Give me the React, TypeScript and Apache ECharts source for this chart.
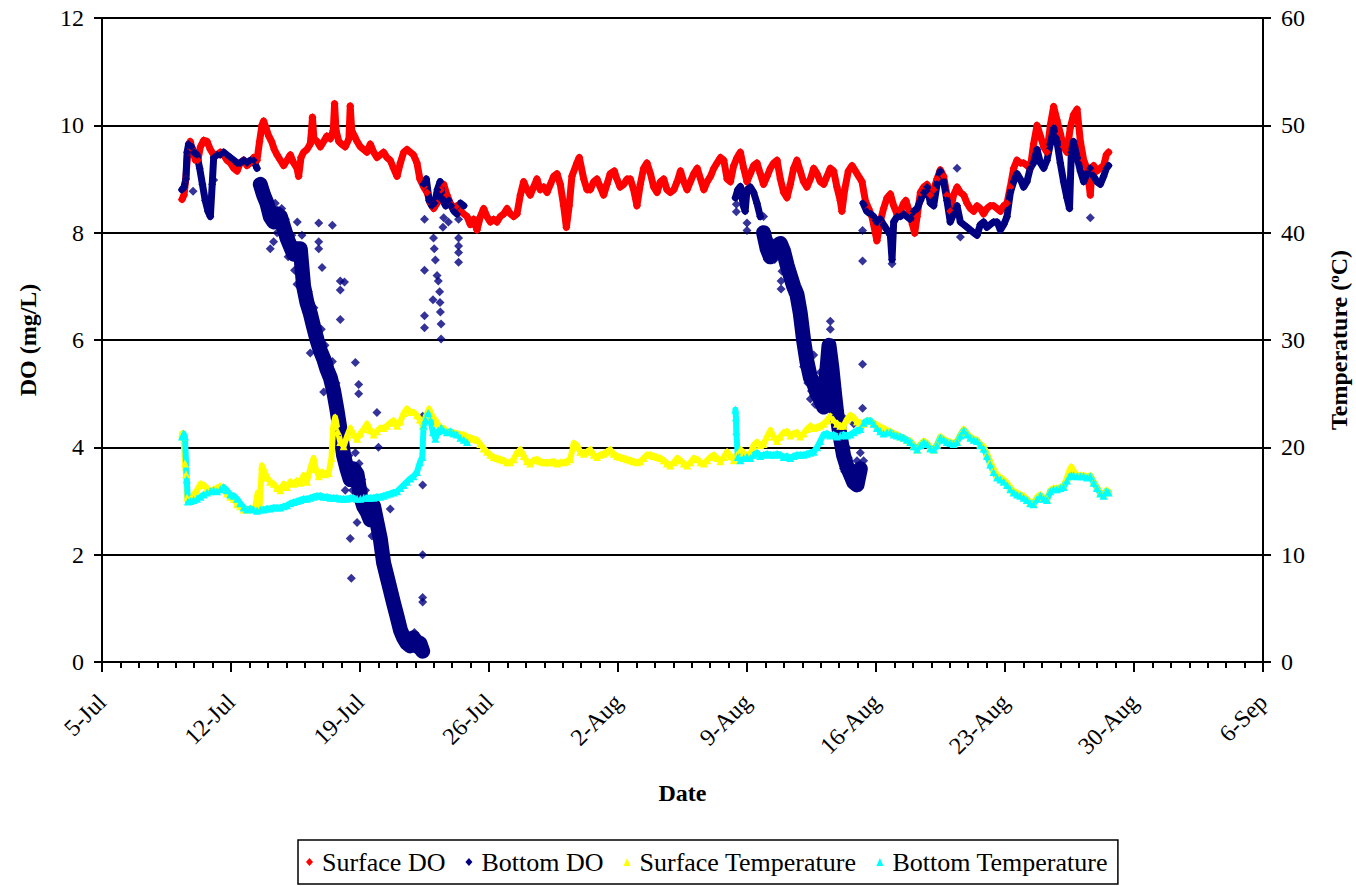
import React, { useEffect, useRef } from "react";
import * as echarts from "echarts";

// x values are days counted from 5-Jul (day 0 = 5-Jul 00:00)
const dateTicks = ["5-Jul", "12-Jul", "19-Jul", "26-Jul", "2-Aug", "9-Aug", "16-Aug", "23-Aug", "30-Aug", "6-Sep"];
const seriesNames = ["Surface DO", "Bottom DO", "Surface Temperature", "Bottom Temperature"];

const surfaceDO: [number, number][] = [
  [4.34, 8.62], [4.45, 8.7], [4.55, 9.0], [4.65, 9.5], [4.79, 9.7], [4.9, 9.55], [5.07, 9.35], [5.2, 9.35], [5.34, 9.6], [5.52, 9.72],
  [5.7, 9.7], [5.88, 9.55], [6.06, 9.45], [6.24, 9.45], [6.42, 9.5], [6.6, 9.45], [6.78, 9.35], [6.96, 9.3], [7.15, 9.2], [7.33, 9.15],
  [7.5, 9.3], [7.69, 9.35], [7.87, 9.25], [8.05, 9.3], [8.23, 9.4], [8.41, 9.35], [8.55, 9.7], [8.68, 10.0], [8.77, 10.08], [8.9, 9.95],
  [9.05, 9.8], [9.2, 9.7], [9.35, 9.55], [9.5, 9.45], [9.68, 9.35], [9.86, 9.25], [10.04, 9.35], [10.22, 9.45], [10.4, 9.3], [10.58, 9.2],
  [10.67, 9.05], [10.8, 9.4], [10.94, 9.5], [11.12, 9.55], [11.3, 9.65], [11.37, 9.9], [11.42, 10.15], [11.5, 9.75], [11.67, 9.7], [11.85, 9.6],
  [12.03, 9.7], [12.2, 9.8], [12.39, 9.75], [12.55, 9.9], [12.62, 10.4], [12.7, 9.9], [12.85, 9.7], [13.0, 9.65], [13.2, 9.6], [13.4, 9.75],
  [13.47, 10.36], [13.55, 9.9], [13.7, 9.8], [13.84, 9.7], [14.02, 9.6], [14.2, 9.55], [14.38, 9.5], [14.56, 9.65], [14.74, 9.5], [14.92, 9.4],
  [15.1, 9.45], [15.28, 9.5], [15.46, 9.4], [15.64, 9.35], [15.82, 9.2], [16.01, 9.05], [16.19, 9.3], [16.37, 9.5], [16.55, 9.55], [16.73, 9.5],
  [16.9, 9.45], [17.09, 9.3], [17.25, 9.0], [17.46, 8.85], [17.64, 8.75], [17.82, 8.55], [18.0, 8.45], [18.18, 8.55], [18.4, 8.8], [18.54, 8.9],
  [18.72, 8.7], [18.9, 8.55], [19.08, 8.45], [19.26, 8.5], [19.45, 8.4], [19.63, 8.35], [19.81, 8.3], [19.99, 8.15], [20.17, 8.25], [20.35, 8.05],
  [20.53, 8.3], [20.71, 8.45], [20.89, 8.3], [21.07, 8.2], [21.25, 8.25], [21.43, 8.2], [21.61, 8.3], [21.8, 8.35], [21.98, 8.45], [22.16, 8.35],
  [22.34, 8.3], [22.52, 8.35], [22.7, 8.7], [22.88, 8.95], [23.06, 8.8], [23.24, 8.7], [23.42, 8.85], [23.6, 9.0], [23.78, 8.8], [23.97, 8.85],
  [24.15, 8.75], [24.33, 8.9], [24.51, 9.05], [24.69, 9.1], [24.87, 8.9], [25.05, 8.5], [25.2, 8.1], [25.35, 8.5], [25.5, 9.05], [25.77, 9.3],
  [25.9, 9.4], [26.14, 9.0], [26.32, 8.8], [26.5, 8.8], [26.68, 8.95], [26.86, 9.0], [27.04, 8.85], [27.22, 8.7], [27.4, 8.9], [27.58, 9.1],
  [27.8, 9.15], [27.94, 9.0], [28.12, 8.85], [28.31, 8.9], [28.49, 9.0], [28.67, 9.0], [28.85, 8.8], [29.03, 8.5], [29.21, 8.9], [29.39, 9.2],
  [29.57, 9.3], [29.76, 9.1], [29.94, 8.85], [30.12, 8.75], [30.3, 8.95], [30.48, 9.0], [30.66, 8.8], [30.84, 8.75], [31.03, 8.8], [31.21, 8.95],
  [31.39, 9.15], [31.57, 8.95], [31.75, 8.8], [31.93, 8.95], [32.11, 9.1], [32.3, 9.2], [32.48, 9.0], [32.66, 8.8], [32.84, 8.95], [33.02, 9.05],
  [33.2, 9.2], [33.38, 9.3], [33.56, 9.4], [33.74, 9.35], [33.92, 9.0], [34.1, 8.95], [34.28, 9.25], [34.46, 9.4], [34.64, 9.5], [34.82, 9.2],
  [35.0, 8.95], [35.18, 9.1], [35.36, 9.25], [35.54, 9.3], [35.72, 9.1], [35.9, 8.9], [36.09, 9.05], [36.27, 9.2], [36.45, 9.3], [36.63, 9.35],
  [36.81, 9.0], [36.99, 8.75], [37.17, 8.65], [37.35, 8.9], [37.53, 9.2], [37.71, 9.35], [37.89, 9.15], [38.07, 8.95], [38.25, 8.85], [38.44, 9.0],
  [38.62, 9.2], [38.8, 9.1], [38.98, 8.95], [39.16, 8.9], [39.34, 9.05], [39.52, 9.2], [39.7, 9.15], [39.88, 8.85], [40.06, 8.6], [40.15, 8.4],
  [40.3, 8.8], [40.5, 9.15], [40.7, 9.25], [40.88, 9.15], [41.06, 9.05], [41.24, 8.95], [41.42, 8.6], [41.6, 8.45], [41.78, 8.3], [41.96, 8.0],
  [42.05, 7.85], [42.23, 8.2], [42.41, 8.45], [42.6, 8.65], [42.78, 8.72], [42.96, 8.5], [43.14, 8.35], [43.32, 8.4], [43.5, 8.55], [43.62, 8.6],
  [43.8, 8.4], [43.98, 8.15], [44.1, 7.99], [44.23, 8.3], [44.41, 8.75], [44.59, 8.85], [44.77, 8.9], [44.95, 8.7], [45.13, 8.8], [45.31, 9.0],
  [45.49, 9.17], [45.67, 9.05], [45.85, 8.7], [46.03, 8.4], [46.21, 8.7], [46.4, 8.85], [46.58, 8.75], [46.76, 8.7], [46.94, 8.55], [47.12, 8.45],
  [47.3, 8.4], [47.48, 8.5], [47.66, 8.45], [47.84, 8.35], [48.02, 8.45], [48.2, 8.5], [48.38, 8.5], [48.57, 8.45], [48.75, 8.4], [48.93, 8.5],
  [49.11, 8.55], [49.29, 8.85], [49.47, 9.2], [49.65, 9.35], [49.83, 9.3], [50.01, 9.3], [50.19, 9.25], [50.37, 9.2], [50.55, 9.65], [50.74, 10.0],
  [50.92, 9.8], [51.1, 9.6], [51.28, 9.5], [51.46, 10.0], [51.64, 10.35], [51.82, 10.1], [52.0, 9.85], [52.18, 9.6], [52.36, 9.5], [52.54, 9.95],
  [52.72, 10.2], [52.91, 10.3], [53.09, 9.7], [53.27, 9.35], [53.45, 9.2], [53.63, 8.7], [53.72, 9.2], [53.81, 9.25], [53.99, 9.15], [54.17, 9.2],
  [54.35, 9.25], [54.5, 9.45], [54.62, 9.5],
];

const bottomDO: [number, number][] = [
  [4.34, 8.8], [4.45, 8.85], [4.55, 9.0], [4.62, 9.5], [4.7, 9.65], [4.85, 9.6], [5.0, 9.5], [5.15, 9.45], [5.3, 9.2], [5.45, 8.9],
  [5.6, 8.6], [5.75, 8.4], [5.88, 8.3], [5.98, 8.9], [6.06, 9.4], [6.24, 9.45], [6.42, 9.45], [6.6, 9.5], [6.78, 9.45], [6.96, 9.4],
  [7.15, 9.35], [7.33, 9.3], [7.5, 9.3], [7.69, 9.35], [7.87, 9.3], [8.05, 9.35], [8.23, 9.35], [8.41, 9.2], [8.59, 8.9], [8.77, 8.7],
  [8.95, 8.55], [9.13, 8.3], [9.32, 8.2], [9.5, 8.35], [9.68, 8.3], [9.86, 8.1], [10.04, 7.9], [10.22, 7.75], [10.4, 7.6], [10.58, 7.7],
  [10.76, 7.7], [10.94, 7.0], [11.12, 6.7], [11.3, 6.5], [11.48, 6.25], [11.67, 6.0], [11.85, 5.8], [12.03, 5.65], [12.21, 5.45], [12.39, 5.3],
  [12.57, 5.05], [12.75, 4.7], [12.93, 4.3], [13.11, 3.85], [13.29, 3.6], [13.47, 3.4], [13.65, 3.6], [13.84, 3.5], [14.02, 3.1], [14.2, 2.9],
  [14.38, 2.8], [14.56, 2.65], [14.74, 2.9], [14.92, 2.6], [15.1, 2.3], [15.28, 1.85], [15.46, 1.6], [15.64, 1.35], [15.82, 1.1], [16.01, 0.85],
  [16.19, 0.6], [16.37, 0.45], [16.55, 0.35], [16.73, 0.3], [16.9, 0.45], [17.09, 0.3], [17.25, 0.35], [17.4, 0.2],
  [17.46, 8.9], [17.6, 9.0], [17.75, 8.6], [17.9, 8.5], [18.05, 8.55], [18.2, 8.8], [18.35, 8.95], [18.5, 8.6], [18.65, 8.5], [18.8, 8.6],
  [18.95, 8.5], [19.1, 8.4], [19.26, 8.35], [19.45, 8.55], [19.63, 8.5],
  [34.37, 8.65], [34.5, 8.8], [34.64, 8.86], [34.8, 8.5], [34.9, 8.4], [35.0, 8.8], [35.18, 8.85], [35.36, 8.75], [35.54, 8.55], [35.72, 8.3],
  [35.9, 8.0], [36.09, 7.7], [36.27, 7.55], [36.45, 7.7], [36.63, 7.75], [36.81, 7.8], [36.99, 7.65], [37.17, 7.4], [37.35, 7.2], [37.53, 7.0],
  [37.71, 6.85], [37.89, 6.5], [38.07, 6.0], [38.25, 5.6], [38.44, 5.3], [38.62, 5.2], [38.8, 5.0], [38.98, 4.9], [39.16, 4.75], [39.3, 5.3],
  [39.45, 5.9], [39.6, 5.5], [39.75, 5.0], [39.88, 4.6], [40.06, 4.2], [40.24, 3.85], [40.42, 3.65], [40.61, 3.5], [40.79, 3.35], [40.97, 3.3],
  [41.15, 3.6], [41.3, 8.55], [41.5, 8.4], [41.69, 8.35], [41.87, 8.3], [42.05, 8.2], [42.23, 8.25], [42.41, 8.15], [42.6, 8.05], [42.78, 7.95],
  [42.87, 7.5], [42.96, 8.2], [43.14, 8.3], [43.32, 8.3], [43.5, 8.35], [43.68, 8.3], [43.86, 8.25], [44.05, 8.4], [44.23, 8.45], [44.41, 8.6],
  [44.59, 8.75], [44.77, 8.85], [44.95, 8.55], [45.13, 8.5], [45.31, 8.9], [45.49, 9.15], [45.67, 8.95], [45.85, 8.6], [46.03, 8.2], [46.21, 8.35],
  [46.4, 8.5], [46.58, 8.2], [46.76, 8.15], [46.94, 8.1], [47.12, 8.05], [47.3, 8.0], [47.48, 7.95], [47.66, 8.15], [47.84, 8.2], [48.02, 8.1],
  [48.2, 8.15], [48.38, 8.2], [48.57, 8.2], [48.75, 8.05], [48.93, 8.15], [49.11, 8.3], [49.29, 8.75], [49.47, 8.95], [49.65, 9.1], [49.83, 9.0],
  [50.01, 8.85], [50.19, 8.95], [50.37, 9.2], [50.55, 9.3], [50.74, 9.55], [50.92, 9.3], [51.1, 9.2], [51.28, 9.35], [51.46, 9.65], [51.64, 9.95],
  [51.82, 9.7], [52.0, 9.3], [52.18, 8.95], [52.36, 8.65], [52.5, 8.45], [52.6, 9.5], [52.72, 9.7], [52.91, 9.4], [53.09, 9.15], [53.27, 8.95],
  [53.45, 9.1], [53.63, 9.2], [53.81, 9.05], [53.99, 8.95], [54.17, 8.9], [54.35, 9.05], [54.5, 9.2], [54.62, 9.25],
];
// periods [from, to] (days) when the bottom DO readings form a wide scattered cloud
const bottomDOCloud: [number, number][] = [[8.5, 17.43], [35.8, 41.25]];
// days at which the bottom DO record is interrupted
const bottomDOBreaks = [19.7];

// scattered bottom DO readings away from the main band
const bottomDOScatter: [number, number][] = [
  [4.94, 8.77], [6.06, 8.98], [8.8, 8.5], [9.0, 8.35], [9.13, 7.7], [9.31, 7.83], [9.4, 8.55], [9.5, 8.0], [9.6, 8.1], [9.75, 8.45],
  [9.95, 8.25], [10.1, 7.55], [10.3, 7.95], [10.45, 7.3], [10.58, 7.04], [10.6, 8.2], [10.7, 7.5], [10.85, 7.95], [11.0, 7.4], [11.2, 6.9],
  [11.3, 5.76], [11.4, 6.35], [11.5, 6.6], [11.6, 5.9], [11.76, 8.18], [11.76, 7.83], [11.76, 7.7], [11.9, 6.2], [11.94, 7.35], [12.03, 5.03],
  [12.1, 5.9], [12.3, 5.6], [12.5, 8.14], [12.5, 5.6], [12.7, 5.2], [12.85, 4.6], [12.93, 7.1], [12.93, 6.93], [12.93, 6.38], [13.0, 3.9],
  [13.16, 7.08], [13.2, 3.2], [13.4, 3.85], [13.47, 2.3], [13.53, 1.56], [13.6, 3.2], [13.75, 5.58], [13.75, 3.9], [13.84, 2.6], [13.93, 5.17],
  [13.93, 5.0], [13.95, 3.7], [14.1, 3.4], [14.3, 3.2], [14.5, 2.9], [14.65, 2.35], [14.85, 2.9], [14.92, 4.65], [15.0, 4.0], [15.0, 2.45],
  [15.1, 2.1], [15.2, 2.05], [15.35, 1.6], [15.55, 1.45], [15.64, 2.85], [15.75, 1.2], [15.9, 1.0], [16.1, 0.7], [16.3, 0.55], [16.45, 0.4],
  [16.65, 0.5], [16.8, 0.25], [16.95, 0.55], [17.1, 0.2], [17.2, 0.45], [17.3, 0.3], [17.4, 1.12], [17.4, 1.2], [17.4, 2.0], [17.4, 3.3],
  [17.4, 4.58], [17.5, 7.3], [17.5, 6.45], [17.5, 6.23], [17.5, 8.25], [17.96, 6.75], [17.99, 7.9], [18.03, 7.7], [18.09, 7.49], [18.18, 7.2],
  [18.25, 7.1], [18.32, 6.9], [18.34, 6.7], [18.36, 6.52], [18.4, 6.3], [18.4, 6.02], [18.5, 8.1], [18.54, 8.28], [18.8, 8.2], [19.35, 7.9],
  [19.35, 7.75], [19.35, 7.63], [19.35, 7.45], [19.35, 8.25],
  [34.42, 8.53], [34.42, 8.39], [35.0, 8.04], [35.0, 8.18], [35.9, 8.3], [36.1, 7.5], [36.3, 7.85], [36.5, 7.5], [36.7, 7.6], [36.85, 7.1],
  [36.85, 6.95], [36.9, 7.28], [36.9, 7.85], [37.1, 7.65], [37.3, 7.05], [37.5, 6.85], [38.07, 5.5], [38.1, 5.7], [38.25, 5.75], [38.3, 5.2],
  [38.44, 4.9], [38.5, 5.05], [38.62, 5.72], [38.7, 4.8], [38.9, 5.1], [38.98, 5.4], [39.1, 4.85], [39.16, 5.27], [39.25, 5.6], [39.34, 5.94],
  [39.4, 5.55], [39.52, 6.35], [39.52, 6.2], [39.55, 5.75], [39.65, 5.2], [39.75, 4.85], [39.8, 4.7], [39.88, 5.1], [39.9, 5.0], [40.0, 4.5],
  [40.1, 3.9], [40.15, 4.58], [40.24, 3.6], [40.3, 3.55], [40.4, 4.0], [40.5, 3.8], [40.6, 3.4], [40.7, 3.6], [40.79, 4.44], [40.85, 3.4],
  [40.97, 3.75], [41.05, 3.5], [41.15, 3.9], [41.27, 5.55], [41.27, 4.73], [41.27, 8.04], [41.27, 7.47], [41.33, 3.75], [42.87, 7.42],
  [46.4, 9.2], [46.58, 7.92], [53.63, 8.28],
];

const surfaceTemp: [number, number][] = [
  [4.34, 21.3], [4.42, 21.0], [4.5, 18.5], [4.56, 17.5], [4.62, 15.3], [4.8, 15.2], [4.97, 15.6], [5.15, 16.0], [5.34, 16.6], [5.52, 16.5],
  [5.7, 16.2], [5.88, 15.9], [6.06, 16.1], [6.24, 16.2], [6.42, 16.4], [6.6, 16.1], [6.78, 15.7], [6.96, 15.4], [7.15, 15.2], [7.33, 14.7],
  [7.5, 14.5], [7.69, 14.2], [7.87, 14.2], [8.05, 14.3], [8.3, 14.3], [8.45, 15.8], [8.55, 14.4], [8.68, 18.3], [8.8, 17.8], [8.95, 17.2],
  [9.13, 16.8], [9.32, 16.6], [9.5, 16.2], [9.68, 16.0], [9.86, 16.6], [10.04, 16.3], [10.22, 16.8], [10.4, 16.6], [10.58, 16.9], [10.76, 16.7],
  [10.94, 17.4], [11.12, 16.8], [11.3, 18.0], [11.48, 19.0], [11.6, 18.0], [11.76, 17.3], [11.94, 17.7], [12.1, 17.5], [12.3, 17.6], [12.45, 19.0],
  [12.55, 22.0], [12.65, 22.8], [12.8, 21.5], [12.93, 20.5], [13.11, 20.1], [13.29, 21.0], [13.47, 21.8], [13.65, 21.2], [13.84, 20.8], [14.02, 21.3],
  [14.2, 21.7], [14.38, 22.2], [14.56, 21.6], [14.74, 21.2], [14.92, 21.5], [15.1, 21.8], [15.28, 21.8], [15.46, 22.0], [15.64, 22.3], [15.82, 22.5],
  [16.01, 22.0], [16.19, 22.4], [16.37, 23.2], [16.55, 23.6], [16.73, 23.3], [16.9, 23.3], [17.09, 23.0], [17.25, 22.6], [17.4, 22.0], [17.55, 22.8],
  [17.75, 23.6], [17.9, 23.0], [18.18, 22.3], [18.36, 21.8], [18.54, 21.8], [18.72, 21.5], [18.9, 21.4], [19.08, 21.4], [19.26, 21.3], [19.45, 21.2],
  [19.63, 21.2], [19.81, 21.0], [19.99, 20.9], [20.17, 20.8], [20.35, 20.7], [20.53, 20.3], [20.71, 19.9], [20.89, 19.6], [21.07, 19.3], [21.25, 19.1],
  [21.43, 19.0], [21.61, 18.9], [21.8, 18.8], [21.98, 18.6], [22.16, 18.6], [22.34, 18.9], [22.52, 19.5], [22.7, 19.8], [22.88, 19.2], [23.06, 18.7],
  [23.24, 18.5], [23.42, 18.8], [23.6, 18.9], [23.78, 18.7], [23.97, 18.6], [24.15, 18.6], [24.33, 18.6], [24.51, 18.7], [24.69, 18.5], [24.87, 18.6],
  [25.05, 18.6], [25.23, 18.7], [25.41, 18.9], [25.6, 20.4], [25.77, 20.2], [25.95, 19.6], [26.14, 19.4], [26.32, 19.6], [26.5, 19.8], [26.68, 19.3],
  [26.86, 19.1], [27.04, 19.3], [27.22, 19.4], [27.4, 19.6], [27.58, 19.8], [27.76, 19.4], [27.94, 19.2], [28.12, 19.1], [28.31, 19.0], [28.49, 18.9],
  [28.67, 18.8], [28.85, 18.7], [29.03, 18.6], [29.21, 18.7], [29.39, 19.0], [29.57, 19.3], [29.76, 19.3], [29.94, 19.2], [30.12, 19.1], [30.3, 19.0],
  [30.48, 18.8], [30.66, 18.5], [30.84, 18.3], [31.03, 18.6], [31.21, 19.0], [31.39, 18.8], [31.57, 18.5], [31.75, 18.3], [31.93, 18.6], [32.11, 19.0],
  [32.3, 18.9], [32.48, 18.6], [32.66, 18.5], [32.84, 18.8], [33.02, 19.1], [33.2, 19.3], [33.38, 19.0], [33.56, 18.7], [33.74, 19.1], [33.92, 19.6],
  [34.1, 19.2], [34.28, 18.8], [34.46, 19.3], [34.64, 19.8], [34.82, 19.5], [35.0, 19.0], [35.18, 19.4], [35.36, 20.2], [35.54, 20.5], [35.72, 20.2],
  [35.9, 20.3], [36.09, 21.0], [36.27, 21.6], [36.45, 21.0], [36.63, 20.6], [36.81, 21.0], [36.99, 21.4], [37.17, 21.5], [37.35, 21.1], [37.53, 21.3],
  [37.71, 21.4], [37.89, 21.0], [38.07, 21.3], [38.25, 21.7], [38.44, 22.0], [38.62, 21.8], [38.8, 21.9], [38.98, 22.0], [39.16, 22.2], [39.34, 22.5],
  [39.52, 22.9], [39.7, 22.6], [39.88, 22.2], [40.06, 22.0], [40.24, 22.0], [40.42, 22.6], [40.61, 23.0], [40.79, 22.8], [40.97, 22.4], [41.15, 22.3],
  [41.33, 22.2], [41.51, 22.5], [41.69, 22.5], [41.87, 22.3], [42.05, 22.1], [42.23, 21.9], [42.41, 21.8], [42.6, 21.6], [42.78, 21.5], [42.96, 21.3],
  [43.14, 21.2], [43.32, 21.0], [43.5, 20.9], [43.68, 20.7], [43.86, 20.6], [44.05, 20.2], [44.23, 19.8], [44.41, 20.3], [44.59, 20.6], [44.77, 20.4],
  [44.95, 20.0], [45.13, 19.8], [45.31, 20.3], [45.49, 21.0], [45.67, 20.8], [45.85, 20.6], [46.03, 20.5], [46.21, 20.4], [46.4, 20.6], [46.58, 21.2],
  [46.76, 21.7], [46.94, 21.3], [47.12, 21.0], [47.3, 20.8], [47.48, 20.7], [47.66, 20.3], [47.84, 20.1], [48.02, 19.4], [48.2, 18.7], [48.38, 18.0],
  [48.57, 17.4], [48.75, 17.2], [48.93, 17.0], [49.11, 16.7], [49.29, 16.3], [49.47, 15.9], [49.65, 15.8], [49.83, 15.6], [50.01, 15.5], [50.19, 15.2],
  [50.37, 14.9], [50.55, 14.8], [50.74, 15.4], [50.92, 15.6], [51.1, 15.3], [51.28, 15.2], [51.46, 16.0], [51.64, 16.2], [51.82, 16.2], [52.0, 16.3],
  [52.18, 16.4], [52.36, 17.2], [52.5, 17.9], [52.6, 18.2], [52.72, 17.8], [52.91, 17.4], [53.09, 17.4], [53.27, 17.4], [53.45, 17.3], [53.63, 17.4],
  [53.81, 16.8], [53.99, 16.3], [54.17, 15.8], [54.35, 15.6], [54.5, 16.0], [54.62, 15.9],
];

const bottomTemp: [number, number][] = [
  [4.34, 21.0], [4.42, 21.3], [4.5, 21.0], [4.6, 17.0], [4.66, 14.95], [4.8, 15.0], [4.97, 15.1], [5.15, 15.2], [5.34, 15.4], [5.52, 15.6],
  [5.7, 15.8], [5.88, 15.9], [6.06, 16.0], [6.24, 15.9], [6.42, 16.1], [6.6, 16.3], [6.78, 16.0], [6.96, 15.6], [7.15, 15.5], [7.33, 15.2],
  [7.5, 14.8], [7.69, 14.4], [7.87, 14.2], [8.05, 14.3], [8.23, 14.2], [8.41, 14.1], [8.59, 14.2], [8.77, 14.2], [8.95, 14.3], [9.13, 14.3],
  [9.32, 14.4], [9.5, 14.4], [9.68, 14.4], [9.86, 14.5], [10.04, 14.6], [10.22, 14.8], [10.4, 14.9], [10.58, 15.0], [10.76, 15.1], [10.94, 15.2],
  [11.12, 15.2], [11.3, 15.3], [11.48, 15.4], [11.67, 15.5], [11.85, 15.5], [12.03, 15.4], [12.21, 15.4], [12.39, 15.3], [12.57, 15.3], [12.75, 15.3],
  [12.93, 15.2], [13.11, 15.2], [13.29, 15.2], [13.47, 15.3], [13.65, 15.3], [13.84, 15.2], [14.02, 15.2], [14.2, 15.3], [14.38, 15.3], [14.56, 15.3],
  [14.74, 15.3], [14.92, 15.4], [15.1, 15.4], [15.28, 15.5], [15.46, 15.6], [15.64, 15.7], [15.82, 15.8], [16.01, 15.9], [16.19, 16.2], [16.37, 16.5],
  [16.55, 16.8], [16.73, 17.1], [16.9, 17.3], [17.09, 17.7], [17.25, 18.6], [17.38, 19.1], [17.45, 22.0], [17.55, 22.6], [17.7, 23.2], [17.82, 22.5],
  [17.96, 21.4], [18.09, 20.8], [18.25, 21.5], [18.4, 21.8], [18.54, 21.6], [18.72, 21.4], [18.9, 21.5], [19.08, 21.3], [19.26, 21.2], [19.45, 20.9],
  [19.63, 20.7], [19.81, 20.5],
  [34.37, 23.5], [34.4, 22.8], [34.42, 21.5], [34.5, 19.1], [34.64, 18.8], [34.82, 19.0], [35.0, 19.1], [35.18, 19.0], [35.36, 19.3], [35.54, 19.5],
  [35.72, 19.2], [35.9, 19.3], [36.09, 19.4], [36.27, 19.3], [36.45, 19.3], [36.63, 19.4], [36.81, 19.3], [36.99, 19.1], [37.17, 19.2], [37.35, 19.0],
  [37.53, 19.2], [37.71, 19.3], [37.89, 19.3], [38.07, 19.3], [38.25, 19.4], [38.44, 19.5], [38.62, 19.6], [38.8, 20.0], [38.98, 20.6], [39.16, 21.2],
  [39.34, 21.3], [39.52, 21.1], [39.7, 21.2], [39.88, 21.0], [40.06, 21.1], [40.24, 21.2], [40.42, 21.1], [40.61, 21.2], [40.79, 21.4], [40.97, 21.6],
  [41.15, 21.7], [41.33, 22.3], [41.51, 22.5], [41.69, 22.5], [41.87, 22.2], [42.05, 21.8], [42.23, 21.5], [42.41, 21.3], [42.6, 21.4], [42.78, 21.4],
  [42.96, 21.2], [43.14, 21.1], [43.32, 21.0], [43.5, 20.9], [43.68, 20.7], [43.86, 20.5], [44.05, 20.1], [44.23, 19.8], [44.41, 20.2], [44.59, 20.5],
  [44.77, 20.3], [44.95, 19.9], [45.13, 19.8], [45.31, 20.2], [45.49, 20.9], [45.67, 20.7], [45.85, 20.5], [46.03, 20.4], [46.21, 20.3], [46.4, 20.5],
  [46.58, 21.1], [46.76, 21.6], [46.94, 21.2], [47.12, 20.9], [47.3, 20.7], [47.48, 20.6], [47.66, 20.2], [47.84, 19.9], [48.02, 19.2], [48.2, 18.4],
  [48.38, 17.7], [48.57, 17.2], [48.75, 17.0], [48.93, 16.8], [49.11, 16.5], [49.29, 16.1], [49.47, 15.8], [49.65, 15.6], [49.83, 15.5], [50.01, 15.3],
  [50.19, 15.1], [50.37, 14.8], [50.55, 14.7], [50.74, 15.2], [50.92, 15.5], [51.1, 15.2], [51.28, 15.1], [51.46, 15.9], [51.64, 16.1], [51.82, 16.1],
  [52.0, 16.2], [52.18, 16.3], [52.36, 16.9], [52.5, 17.3], [52.6, 17.4], [52.72, 17.4], [52.91, 17.3], [53.09, 17.3], [53.27, 17.3], [53.45, 17.2],
  [53.63, 17.3], [53.81, 16.7], [53.99, 16.2], [54.17, 15.7], [54.35, 15.5], [54.5, 15.9], [54.62, 15.8],
];
const bottomTempBreaks = [19.9];

const FONT = "'Liberation Serif', 'Times New Roman', serif";

// splits a record into a steady band and the scattered "cloud" periods, with '-' gaps at breaks
function bandData(data: [number, number][], breaks: number[], cloud: [number, number][] = []) {
  const line: (number | string)[][] = [];
  const cloudLine: (number | string)[][] = [];
  let bi = 0;
  for (const p of data) {
    while (bi < breaks.length && breaks[bi] < p[0]) {
      line.push([breaks[bi], "-"]);
      cloudLine.push([breaks[bi], "-"]);
      bi++;
    }
    if (cloud.some(([a, b]) => p[0] >= a && p[0] <= b)) {
      cloudLine.push(p);
      line.push([p[0], "-"]);
    } else {
      line.push(p);
      cloudLine.push([p[0], "-"]);
    }
  }
  return { line, cloudLine };
}

export default function App() {
  const ref = useRef<HTMLDivElement>(null);
  useEffect(() => {
    document.body.style.margin = "0";
    const chart = echarts.init(ref.current!, undefined, { renderer: "svg" });
    const axisLine = { show: true, lineStyle: { color: "#000", width: 2 } };
    const tick = { show: true, inside: false, length: 8, lineStyle: { color: "#000", width: 2 } };
    const label = { color: "#000", fontSize: 24, fontFamily: FONT };
    const nameStyle = { color: "#000", fontSize: 24, fontWeight: "bold" as const, fontFamily: FONT };
    const band = (name: string, color: string, symbol: string, yAxisIndex: number, data: any[], width: number, size = 8) => ({
      name,
      type: "line",
      yAxisIndex,
      symbol,
      symbolSize: size,
      showSymbol: true,
      showAllSymbol: true,
      connectNulls: false,
      lineStyle: { color, width, join: "round", cap: "round" },
      itemStyle: { color },
      data,
    });
    const bDO = bandData(bottomDO, bottomDOBreaks, bottomDOCloud);
    chart.setOption({
      animation: false,
      backgroundColor: "#fff",
      grid: { left: 102, right: 93, top: 18, bottom: 224, containLabel: false, outerBoundsMode: "none" },
      legend: {
        left: 298,
        top: 840,
        orient: "horizontal",
        borderColor: "#000",
        borderWidth: 1.5,
        borderRadius: 0,
        padding: [9, 10, 9, 8],
        itemGap: 20,
        itemWidth: 7,
        itemHeight: 8,
        textStyle: { color: "#000", fontSize: 26, fontFamily: FONT, padding: [0, 0, 0, 4] },
        data: [
          { name: seriesNames[0], icon: "diamond" },
          { name: seriesNames[1], icon: "diamond" },
          { name: seriesNames[2], icon: "triangle" },
          { name: seriesNames[3], icon: "triangle" },
        ],
      },
      xAxis: {
        type: "value",
        min: 0,
        max: 63,
        interval: 7,
        name: "Date",
        nameLocation: "middle",
        nameGap: 119,
        nameTextStyle: nameStyle,
        axisLine: { ...axisLine, onZero: false },
        axisTick: { ...tick, length: 10 },
        minorTick: { show: true, splitNumber: 7, length: 6, lineStyle: { color: "#000", width: 2 } },
        splitLine: { show: false },
        minorSplitLine: { show: false },
        axisLabel: {
          ...label,
          rotate: 45,
          margin: 36,
          formatter: (v: number) => dateTicks[Math.round(v / 7)] ?? "",
        },
      },
      yAxis: [
        {
          type: "value",
          min: 0,
          max: 12,
          interval: 2,
          position: "left",
          name: "DO (mg/L)",
          nameLocation: "middle",
          nameRotate: 90,
          nameGap: 62,
          nameTextStyle: nameStyle,
          axisLine,
          axisTick: tick,
          axisLabel: { ...label, margin: 18 },
          splitLine: { show: true, lineStyle: { color: "#000", width: 2 } },
        },
        {
          type: "value",
          min: 0,
          max: 60,
          interval: 10,
          position: "right",
          name: "Temperature ({sup|o}C)",
          nameLocation: "middle",
          nameRotate: 90,
          nameGap: 63,
          nameTextStyle: {
            ...nameStyle,
            rich: {
              sup: { fontSize: 15, fontWeight: "bold", fontFamily: FONT, color: "#000", verticalAlign: "top", padding: [0, 0, 10, 0] },
            },
          },
          axisLine,
          axisTick: tick,
          axisLabel: { ...label, margin: 18 },
          splitLine: { show: false },
        },
      ],
      series: [
        band(seriesNames[0], "#FF0000", "diamond", 0, surfaceDO, 7),
        band(seriesNames[1], "#000080", "diamond", 0, bDO.line, 7),
        band(seriesNames[1], "#000080", "diamond", 0, bDO.cloudLine, 15, 10),
        {
          name: seriesNames[1],
          type: "scatter",
          yAxisIndex: 0,
          symbol: "diamond",
          symbolSize: 9,
          itemStyle: { color: "#000080" },
          data: bottomDOScatter,
        },
        band(seriesNames[2], "#FFFF00", "triangle", 1, surfaceTemp, 6),
        band(seriesNames[3], "#00FFFF", "triangle", 1, bandData(bottomTemp, bottomTempBreaks).line, 6),
      ],
    });
    return () => chart.dispose();
  }, []);
  return <div ref={ref} style={{ width: 1356, height: 886 }} />;
}
